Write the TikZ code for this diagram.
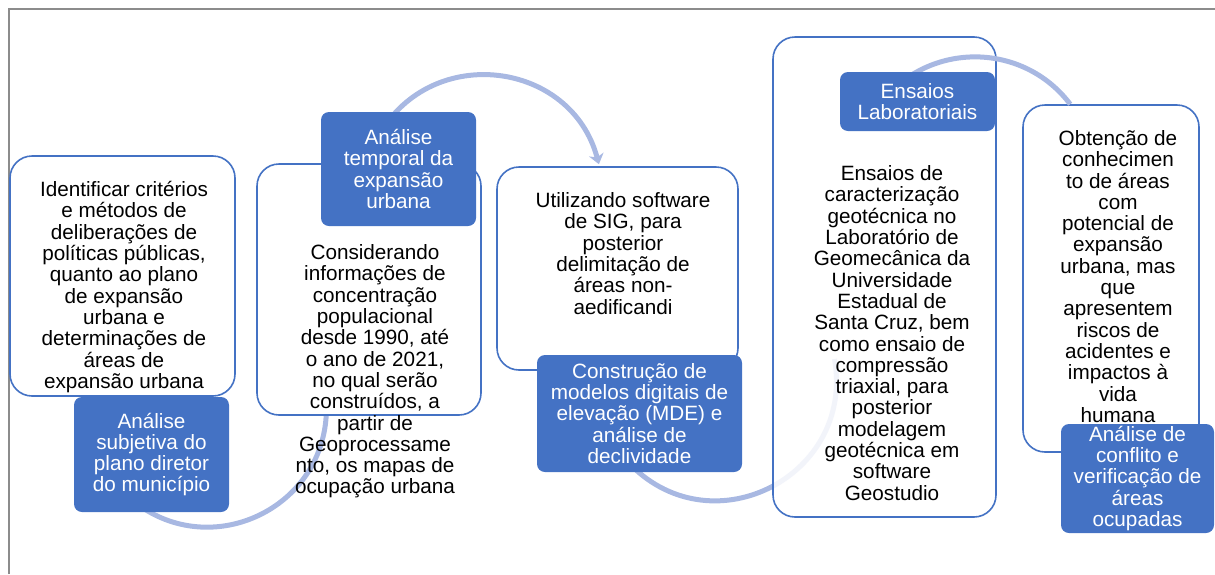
\documentclass[tikz,border=0pt]{standalone}
\usepackage{fontspec}
\setmainfont{Liberation Sans}
\usepackage{tikz}
\usetikzlibrary{arrows.meta}
\pgfdeclarelayer{background}
\pgfdeclarelayer{front}
\pgfsetlayers{background,main,front}
\definecolor{accent}{HTML}{4472C4}
\definecolor{arccolor}{RGB}{168,184,226}
\definecolor{framegray}{RGB}{140,140,140}
\newcommand{\boxfont}{\fontsize{20.7}{21.3}\selectfont}

\begin{document}
\begin{tikzpicture}[x=1pt, y=1pt,
      every node/.append style={font=\boxfont, align=center, inner sep=0pt}]
    \tikzstyle{panel} = [draw=accent, line width=1.6pt, fill=white, rounded corners=22pt]
    \tikzstyle{tag} = [fill=accent, text=white, rounded corners=8pt]
    \tikzstyle{flowarc} = [draw=arccolor, line width=5pt]
    \useasboundingbox (0,0) rectangle (1215,-574);
    \draw[framegray, line width=2pt] (8.5,-574) |- (1215,-8.5);

    \node (subjetiva_box) [panel, minimum width=225pt, minimum height=240pt] at (122.5,-276) {};
    \node (temporal_box) [panel, minimum width=224pt, minimum height=251pt] at (369,-289.5) {};
    \node (mde_box) [panel, minimum width=241pt, minimum height=203pt] at (617.5,-268.5) {};
    \node (ensaios_box) [panel, fill opacity=0.85, minimum width=223pt, minimum height=480pt] at (884.5,-277) {};
    \node (conflito_box) [panel, minimum width=176pt, minimum height=347pt] at (1111,-278.5) {};

    \node (subjetiva_text) at (124,-287) {Identificar critérios\\ e métodos de\\ deliberações de\\ políticas públicas,\\ quanto ao plano\\ de expansão\\ urbana e\\ determinações de\\ áreas de\\ expansão urbana};
    \node (temporal_text) at (375,-371.5) {Considerando\\ informações de\\ concentração\\ populacional\\ desde 1990, até\\ o ano de 2021,\\ no qual serão\\ construídos, a\\ partir de\\ Geoprocessame\\ nto, os mapas de\\ ocupação urbana};
    \node (mde_text) at (623,-253.5) {Utilizando software\\ de SIG, para\\ posterior\\ delimitação de\\ áreas non-\\ aedificandi};
    \node (ensaios_text) at (892,-333) {Ensaios de\\ caracterização\\ geotécnica no\\ Laboratório de\\ Geomecânica da\\ Universidade\\ Estadual de\\ Santa Cruz, bem\\ como ensaio de\\ compressão\\ triaxial, para\\ posterior\\ modelagem\\ geotécnica em\\ software\\ Geostudio};
    \node (conflito_text) at (1118,-276.5) {Obtenção de\\ conhecimen\\ to de áreas\\ com\\ potencial de\\ expansão\\ urbana, mas\\ que\\ apresentem\\ riscos de\\ acidentes e\\ impactos à\\ vida\\ humana};

    \begin{pgfonlayer}{front}
    \node (subjetiva) [tag, minimum width=155pt, minimum height=115pt] at (151.5,-454.5) {Análise\\ subjetiva do\\ plano diretor\\ do município};
    \node (temporal) [tag, minimum width=155pt, minimum height=114pt] at (398.5,-169) {Análise\\ temporal da\\ expansão\\ urbana};
    \node (mde) [tag, minimum width=205pt, minimum height=117pt] at (639.5,-413.5) {Construção de\\ modelos digitais de\\ elevação (MDE) e\\ análise de\\ declividade};
    \node (ensaios) [tag, minimum width=155pt, minimum height=59pt] at (917.5,-101.5) {Ensaios\\ Laboratoriais};
    \node (conflito) [tag, minimum width=153pt, minimum height=109pt] at (1137.5,-478.5) {Análise de\\ conflito e\\ verificação de\\ áreas\\ ocupadas};
    \end{pgfonlayer}

    \begin{pgfonlayer}{background}
    \draw[flowarc] ([xshift=-12pt,yshift=6.5pt]subjetiva.south) to[out=325, in=266.6, looseness=1.14] ([xshift=70pt]temporal_box.south west);
    \draw[flowarc, -{Stealth[length=10pt, width=15pt, inset=3pt]}] ([xshift=-19.4pt,yshift=-23pt]temporal.north) to[out=60, in=105, looseness=1.23] ([xshift=-18.6pt,yshift=2pt]mde_box.north);
    \draw[flowarc] ([xshift=-8.5pt,yshift=7pt]mde.south) to[out=315, in=280, looseness=1.31] ([xshift=-50pt,yshift=-82pt]ensaios_box.center);
    \end{pgfonlayer}
    \draw[flowarc] ([xshift=-27.4pt,yshift=9.4pt]ensaios.center) to[out=45, in=127, looseness=1.03] ([xshift=48pt]conflito_box.north west);
\end{tikzpicture}
\end{document}
